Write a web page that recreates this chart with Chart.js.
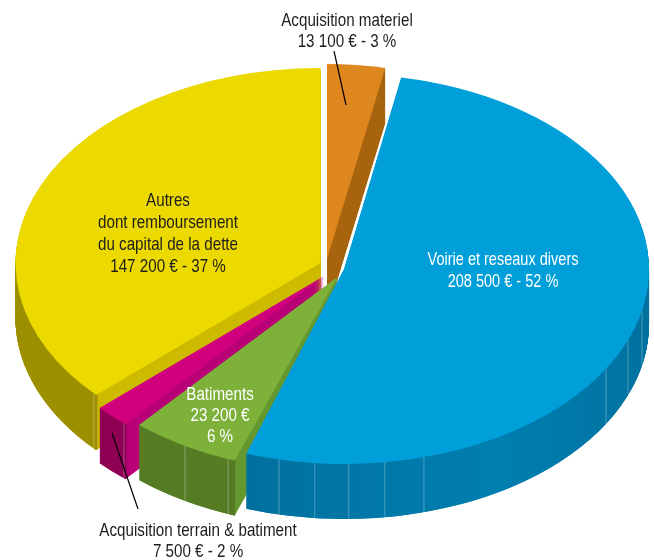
<!DOCTYPE html>
<html lang="fr">
<head>
<meta charset="utf-8">
<title>Investissement</title>
<script src="https://cdn.jsdelivr.net/npm/chart.js@4"></script>
<style>
    html, body { margin: 0; padding: 0; background: #fff; }
    canvas { display: block; }
</style>
</head>
<body>
<canvas id="pie" width="654" height="560"></canvas>
<script>
const categories = ["Acquisition materiel", "Voirie et reseaux divers", "Batiments", "Acquisition terrain & batiment", "Autres"];
const amounts = [13100, 208500, 23200, 7500, 147200];

const topColors = ["#de871e", "#009fd9", "#7db13a", "#d1007d", "#ecd900"];
const cutColors = ["#a8640f", "#0078a8", "#659830", "#b90076", "#cdbb00"];
const wallColors = ["#a8640f", "#0078a8", "#567c25", "#8f0055", "#9c9000"];

// where each slice sits once pulled out of the pie (screen px)
const sliceCenters = [[327, 259], [344, 269], [337.5, 277], [324, 276], [320.5, 263]];
const sliceWidths = [285, 305, 305, 305, 305];
// small turn per slice, the drawing is not a true projection (degrees)
const sliceTurns = [0, -1, 0, 0, 0];
// back to front
const paintOrder = [0, 4, 3, 2, 1];
// seams on the side wall, canvas angle in degrees
const seams = [[], [103.3, 96.5, 90.1, 83.3, 75.8, 31.8, 22.4, 13.3], [120, 111], [131], [138]];

const radiusY = 195, depth = 55;

const labels = [
    { lines: ["Acquisition materiel", "13 100 € - 3 %"], x: 347, y: 26, step: 21, squeeze: 0.82, color: "#1d1d1b" },
    { lines: ["Voirie et reseaux divers", "208 500 € - 52 %"], x: 503, y: 265, step: 22, squeeze: 0.785, color: "#fff" },
    { lines: ["Batiments", "23 200 €", "6 %"], x: 220, y: 400, step: 21, squeeze: 0.82, color: "#fff" },
    { lines: ["Acquisition terrain & batiment", "7 500 € - 2 %"], x: 198, y: 536, step: 21, squeeze: 0.82, color: "#1d1d1b" },
    { lines: ["Autres", "dont remboursement", "du capital de la dette", "147 200 € - 37 %"], x: 168, y: 206, step: 22, squeeze: 0.82, color: "#1d1d1b" }
];
const leaders = [[334, 51, 346, 105], [112, 433, 138, 509]];

function toSlice(ctx, arc, i, down) {
    const r = arc.outerRadius;
    ctx.translate(sliceCenters[i][0], sliceCenters[i][1] + down);
    ctx.scale(sliceWidths[i] / r, radiusY / r);
    ctx.rotate(sliceTurns[i] * Math.PI / 180);
    ctx.translate(-arc.x, -arc.y);
}

function drawSlice(ctx, arc, i) {
    const r = arc.outerRadius;
    const a0 = arc.startAngle, a1 = arc.endAngle;

    // cut faces, stacked from the bottom up
    ctx.fillStyle = cutColors[i];
    for (let d = depth; d > 0; d--) {
        ctx.save();
        toSlice(ctx, arc, i, d);
        ctx.beginPath();
        ctx.moveTo(arc.x, arc.y);
        ctx.arc(arc.x, arc.y, r, a0, a1);
        ctx.closePath();
        ctx.fill();
        ctx.restore();
    }

    // rounded outer wall: a stack of thin arcs so the turn stays vertical on screen
    const from = Math.max(a0, 0), to = Math.min(a1, Math.PI);
    if (from < to) {
        const turn = sliceTurns[i] * Math.PI / 180;
        for (let d = depth; d >= 0; d--) {
            ctx.save();
            toSlice(ctx, arc, i, d);
            let stroke = wallColors[i];
            if (i === 1) {
                stroke = ctx.createLinearGradient(arc.x - r, 0, arc.x + r, 0);
                stroke.addColorStop(0, "#006a96");
                stroke.addColorStop(0.3, "#006f9d");
                stroke.addColorStop(0.75, "#007fb0");
                stroke.addColorStop(1, "#00719f");
            }
            ctx.strokeStyle = stroke;
            ctx.lineWidth = 2.2;
            ctx.beginPath();
            ctx.arc(arc.x, arc.y, r - 1, from - turn > a0 ? from - turn : a0, to);
            ctx.stroke();
            ctx.restore();
        }
        ctx.save();
        ctx.strokeStyle = "rgba(255,255,255,0.3)";
        ctx.lineWidth = 1;
        seams[i].forEach(deg => {
            const a = deg * Math.PI / 180 + turn;
            const px = sliceCenters[i][0] + sliceWidths[i] * Math.cos(a);
            const py = sliceCenters[i][1] + radiusY * Math.sin(a);
            ctx.beginPath();
            ctx.moveTo(px, py);
            ctx.lineTo(px, py + depth);
            ctx.stroke();
        });
        ctx.restore();
    }

    // top face
    ctx.save();
    toSlice(ctx, arc, i, 0);
    arc.draw(ctx);
    ctx.restore();
}

const pie3d = {
    id: "pie3d",
    beforeDatasetDraw(chart) {
        const arcs = chart.getDatasetMeta(0).data;
        paintOrder.forEach(i => drawSlice(chart.ctx, arcs[i], i));
        return false;
    },
    afterDraw(chart) {
        const ctx = chart.ctx;
        ctx.save();
        ctx.strokeStyle = "#000";
        ctx.lineWidth = 1.2;
        leaders.forEach(l => {
            ctx.beginPath();
            ctx.moveTo(l[0], l[1]);
            ctx.lineTo(l[2], l[3]);
            ctx.stroke();
        });
        ctx.font = "18.5px 'Liberation Sans', sans-serif";
        ctx.textAlign = "center";
        ctx.textBaseline = "alphabetic";
        labels.forEach(l => {
            ctx.fillStyle = l.color;
            l.lines.forEach((line, k) => {
                ctx.save();
                ctx.translate(l.x, l.y + k * l.step);
                ctx.scale(l.squeeze, 1); // no condensed face installed
                ctx.fillText(line, 0, 0);
                ctx.restore();
            });
        });
        ctx.restore();
    }
};

new Chart(document.getElementById("pie"), {
    type: "pie",
    data: {
        labels: categories,
        datasets: [{ data: amounts, backgroundColor: topColors, borderWidth: 0 }]
    },
    options: {
        responsive: false,
        animation: false,
        events: [],
        plugins: { legend: { display: false }, tooltip: { enabled: false } }
    },
    plugins: [pie3d]
});
</script>
</body>
</html>
